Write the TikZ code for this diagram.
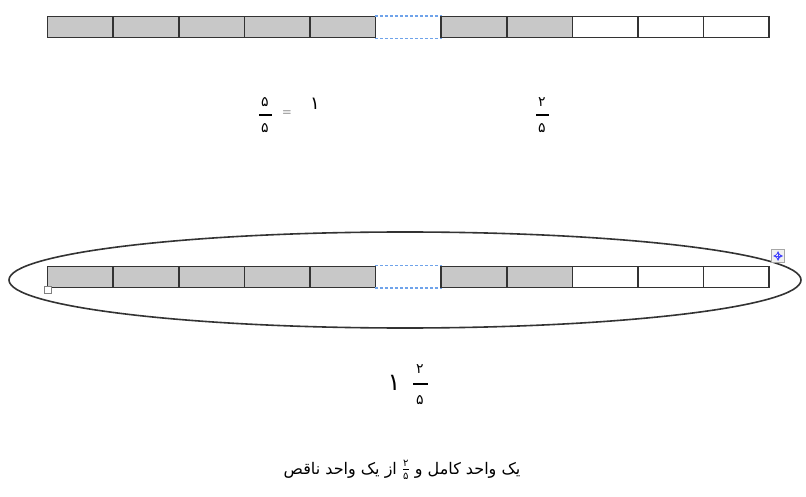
\documentclass[tikz,border=0pt]{standalone}
\usepackage{fontspec}
\usetikzlibrary{positioning}
\newfontfamily\fa[Script=Arabic]{DejaVu Sans}
\TeXXeTstate=1
\definecolor{cellgray}{HTML}{C8C8C8}
\definecolor{edgegray}{HTML}{333333}
\definecolor{gapblue}{HTML}{6FA3EA}
\newcommand{\kasr}[2]{\raisebox{0.1ex}{$\textstyle{\hbox{\fa\fontsize{10}{11}\selectfont #1}\over\hbox{\fa\fontsize{10}{11}\selectfont #2}}$}}
\tikzset{
  cell/.style={draw=edgegray, line width=1.5pt, minimum width=65.6pt, minimum height=21pt, inner sep=0pt, anchor=north west},
  shaded/.style={cell, fill=cellgray},
  blank/.style={cell, fill=white},
  gapline/.style={draw=gapblue, line width=1.3pt, dash pattern=on 3pt off 2pt},
  digit/.style={font=\fa\fontsize{14}{16}\selectfont, inner sep=0pt},
  bigdigit/.style={font=\fa\fontsize{24}{26}\selectfont, inner sep=0pt},
  fracbar/.style={fill=black, minimum width=13pt, minimum height=2.6pt, inner sep=0pt},
}
\begin{document}
\begin{tikzpicture}[x=1pt, y=-1pt]
  \useasboundingbox (0,0) rectangle (806,497);
  % ellipse round the second strip
  \draw[edgegray, line width=1.6pt] (405,280) ellipse [x radius=396pt, y radius=48pt];
  % the two strips
  \foreach \r/\y in {a/16, b/265.5} {
    \foreach \i in {1,...,5} { \node[shaded] (\r\i) at ({46.8+(\i-1)*65.6},\y) {}; }
    \node[cell, draw=none] (\r6) at ({46.8+5*65.6},\y) {};
    \draw[gapline] (\r6.north west) -- (\r6.north east) (\r6.south west) -- (\r6.south east);
    \foreach \i in {7,8} { \node[shaded] (\r\i) at ({46.8+(\i-1)*65.6},\y) {}; }
    \foreach \i in {9,10,11} { \node[blank] (\r\i) at ({46.8+(\i-1)*65.6},\y) {}; }
  }
  % word handles
  \node[draw=gray, fill=white, line width=0.8pt, minimum size=7pt, inner sep=0pt] (handle) at (48,290) {};
  \node[draw=gray!70, fill=gray!12, line width=0.8pt, minimum size=13pt, inner sep=0pt] (mover) at (778,256) {};
  \draw[blue!75, line width=0.8pt, <->, >=stealth] ([xshift=-5pt]mover.center) -- ([xshift=5pt]mover.center);
  \draw[blue!75, line width=0.8pt, <->, >=stealth] ([yshift=-5pt]mover.center) -- ([yshift=5pt]mover.center);
  % fractions
  \node[fracbar] (bar1) at (265,115) {};
  \node[digit, above=7pt of bar1] (num1) {۵};
  \node[digit, below=7pt of bar1] (den1) {۵};
  \node[font=\fontsize{12}{13}\selectfont, inner sep=0pt] (eq1) at (287,113) {=};
  \node[font=\fa\fontsize{18}{20}\selectfont, inner sep=0pt] (one1) at (315,104) {۱};
  \node[fracbar] (bar2) at (542,115) {};
  \node[digit, above=7pt of bar2] (num2) {۲};
  \node[digit, below=7pt of bar2] (den2) {۵};
  \node[fracbar, minimum width=15pt] (bar3) at (420,384) {};
  \node[digit, above=9pt of bar3] (num3) {۲};
  \node[digit, below=10pt of bar3] (den3) {۵};
  \node[bigdigit] (one3) at (394,383) {۱};
  \node[font=\fa\fontsize{16}{18}\selectfont, inner sep=0pt] (caption) at (402,470)
    {\beginR یک واحد کامل و \kasr{۲}{۵} از یک واحد ناقص\endR};
\end{tikzpicture}
\end{document}
